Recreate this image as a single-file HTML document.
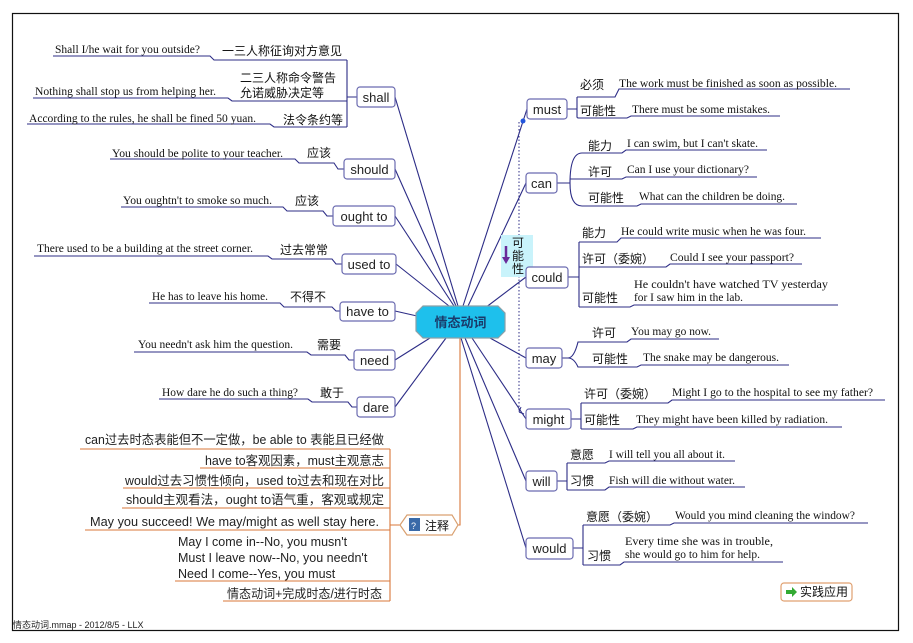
<!DOCTYPE html>
<html><head><meta charset="utf-8"><style>
html,body{margin:0;padding:0;background:#fff;}
svg{display:block;}
.s{font-family:"Liberation Serif","Noto Serif CJK SC",serif;font-size:12px;fill:#111;}
.c{font-family:"Liberation Sans","Noto Sans CJK SC",sans-serif;font-size:12px;fill:#111;}
.n{font-family:"Liberation Sans","Noto Sans CJK SC",sans-serif;font-size:13px;fill:#222;}
.t{font-family:"Liberation Sans","Noto Sans CJK SC",sans-serif;font-size:12.5px;fill:#222;}
.L{fill:none;stroke:#2c2c86;stroke-width:1.1;}
.O{fill:none;stroke:#d9773a;stroke-width:1.1;}
.B{fill:#fff;stroke:#6b6bb0;stroke-width:1.2;}
</style></head><body>
<svg width="913" height="643" viewBox="0 0 913 643" xmlns="http://www.w3.org/2000/svg">
<rect x="12.5" y="13.5" width="886" height="617" fill="none" stroke="#111" stroke-width="1.2"/>
<text x="13" y="628" font-family="Liberation Sans,Noto Sans CJK SC,sans-serif" font-size="9" fill="#222">情态动词.mmap - 2012/8/5 - LLX</text>

<!-- center connectors -->
<g class="L">
<path d="M395 97 L458 306"/><path d="M395 169 L456 306"/><path d="M395 216 L454 306"/>
<path d="M396 264 L449 306"/><path d="M395 311 L417 316"/><path d="M395 360 L430 338"/><path d="M395 407 L446 338"/>
<path d="M527 109 L463 306"/><path d="M526 183 L468 306"/><path d="M526 277 L485 308"/>
<path d="M526 358 L490 338"/><path d="M526 419 L472 338"/><path d="M526 481 L465 338"/><path d="M526 548 L461 338"/>
</g>
<path d="M460 338 V525 H458" class="O"/>

<!-- center node -->
<polygon points="423,306 498,306 505,313 505,331 498,338 423,338 416,331 416,313" fill="#1ec0ec" stroke="#8aa0a8" stroke-width="1.2"/>
<text x="460.5" y="327" text-anchor="middle" font-family="Liberation Sans,Noto Sans CJK SC,sans-serif" font-size="13" font-weight="bold" fill="#1a3a6a">情态动词</text>

<!-- LEFT side -->
<g class="L">
<path d="M53 56 H210 L214 60 H347"/><path d="M33 98 H228 L232 101 H347"/><path d="M27 124 H270 L274 127 H347"/>
<path d="M347 60 V127 M347 97 H357"/>
<path d="M110 159 H295 L299 163 H334 L338 169 H344"/>
<path d="M121 207 H283 L287 211 H323 L327 216 H333"/>
<path d="M34 256 H268 L272 259 H332 L336 264 H342"/>
<path d="M149 303 H280 L284 307 H332 L336 311 H340"/>
<path d="M134 352 H307 L311 355 H345 L349 360 H354"/>
<path d="M159 399 H308 L312 402 H348 L352 407 H357"/>
</g>
<text class="s" x="55" y="53" textLength="145" lengthAdjust="spacingAndGlyphs">Shall I/he wait for you outside?</text>
<text class="c" x="222" y="55">一三人称征询对方意见</text>
<text class="c" x="240" y="82">二三人称命令警告</text>
<text class="c" x="240" y="97">允诺威胁决定等</text>
<text class="s" x="35" y="95" textLength="181" lengthAdjust="spacingAndGlyphs">Nothing shall stop us from helping her.</text>
<text class="s" x="29" y="122" textLength="227" lengthAdjust="spacingAndGlyphs">According to the rules, he shall be fined 50 yuan.</text>
<text class="c" x="283" y="124">法令条约等</text>
<text class="s" x="112" y="157" textLength="171" lengthAdjust="spacingAndGlyphs">You should be polite to your teacher.</text>
<text class="c" x="307" y="157">应该</text>
<text class="s" x="123" y="204" textLength="149" lengthAdjust="spacingAndGlyphs">You oughtn't to smoke so much.</text>
<text class="c" x="295" y="205">应该</text>
<text class="s" x="37" y="252" textLength="216" lengthAdjust="spacingAndGlyphs">There used to be a building at the street corner.</text>
<text class="c" x="280" y="254">过去常常</text>
<text class="s" x="152" y="300" textLength="116" lengthAdjust="spacingAndGlyphs">He has to leave his home.</text>
<text class="c" x="290" y="301">不得不</text>
<text class="s" x="138" y="348" textLength="155" lengthAdjust="spacingAndGlyphs">You needn't ask him the question.</text>
<text class="c" x="317" y="349">需要</text>
<text class="s" x="162" y="396" textLength="136" lengthAdjust="spacingAndGlyphs">How dare he do such a thing?</text>
<text class="c" x="320" y="397">敢于</text>

<rect class="B" x="357" y="87" width="38" height="20" rx="3"/><text class="n" x="376" y="102" text-anchor="middle">shall</text>
<rect class="B" x="344" y="159" width="51" height="20" rx="3"/><text class="n" x="369.5" y="174" text-anchor="middle">should</text>
<rect class="B" x="333" y="206" width="62" height="20" rx="3"/><text class="n" x="364" y="221" text-anchor="middle">ought to</text>
<rect class="B" x="342" y="254" width="54" height="20" rx="3"/><text class="n" x="369" y="269" text-anchor="middle">used to</text>
<rect class="B" x="340" y="302" width="55" height="19" rx="3"/><text class="n" x="367.5" y="316" text-anchor="middle">have to</text>
<rect class="B" x="354" y="350" width="41" height="20" rx="3"/><text class="n" x="374.5" y="365" text-anchor="middle">need</text>
<rect class="B" x="357" y="397" width="38" height="20" rx="3"/><text class="n" x="376" y="412" text-anchor="middle">dare</text>

<!-- RIGHT side -->
<line x1="519" y1="122" x2="519" y2="412" stroke="#2c2c86" stroke-width="1" stroke-dasharray="1.5,2"/>
<path d="M519 412 L524 414 M519 412 L521 407" stroke="#2c2c86" fill="none"/>
<circle cx="523" cy="121" r="2.5" fill="#2255dd"/>
<rect x="501" y="235" width="32" height="42" fill="#c9f3fb"/>
<text class="c" x="512" y="247">可</text><text class="c" x="512" y="260">能</text><text class="c" x="512" y="273">性</text>
<path d="M506 246 V258" stroke="#6a2a9a" stroke-width="2.5"/><path d="M502 257 L510 257 L506 264 Z" fill="#6a2a9a"/>

<g class="L">
<path d="M567 109 H577 M577 97 V117 Q577 118 579 118 M577 97 Q577 97 580 97 H615 L619 89 H850 M579 118 H627 L631 116 H780"/>
<path d="M557 183 H570 Q570 153 582 153 H622 L626 150 H767 M570 183 Q570 206 582 206 H637 L641 204 H797 M570 179 H622 L626 177 H757"/>
<path d="M568 277 H579 M579 242 V307 M579 242 H617 L621 238 H821 M579 267 H666 L670 264 H802 M579 307 H630 L634 305 H838"/>
<path d="M562 358 H568 Q574 358 578 342 H627 L631 339 H719 M568 358 Q574 358 578 367 H637 L641 365 H789"/>
<path d="M571 419 H581 M581 403 V429 M581 403 H668 L672 400 H885 M581 429 H633 L637 427 H842"/>
<path d="M557 481 H567 M567 463 V490 M567 463 H605 L609 461 H735 M567 490 H605 L609 487 H745"/>
<path d="M573 548 H583 M583 525 V565 M583 525 H670 L674 523 H868 M583 565 H620 L624 562 H783"/>
</g>
<text class="c" x="580" y="89">必须</text>
<text class="s" x="619" y="87" textLength="218" lengthAdjust="spacingAndGlyphs">The work must be finished as soon as possible.</text>
<text class="c" x="580" y="115">可能性</text>
<text class="s" x="632" y="113" textLength="138" lengthAdjust="spacingAndGlyphs">There must be some mistakes.</text>
<text class="c" x="588" y="150">能力</text>
<text class="s" x="627" y="147" textLength="131" lengthAdjust="spacingAndGlyphs">I can swim, but I can't skate.</text>
<text class="c" x="588" y="176">许可</text>
<text class="s" x="627" y="173" textLength="122" lengthAdjust="spacingAndGlyphs">Can I use your dictionary?</text>
<text class="c" x="588" y="202">可能性</text>
<text class="s" x="639" y="200" textLength="146" lengthAdjust="spacingAndGlyphs">What can the children be doing.</text>
<text class="c" x="582" y="237">能力</text>
<text class="s" x="621" y="235" textLength="185" lengthAdjust="spacingAndGlyphs">He could write music when he was four.</text>
<text class="c" x="582" y="263">许可（委婉）</text>
<text class="s" x="670" y="261" textLength="124" lengthAdjust="spacingAndGlyphs">Could I see your passport?</text>
<text class="c" x="582" y="302">可能性</text>
<text class="s" x="634" y="288" textLength="194" lengthAdjust="spacingAndGlyphs">He couldn't have watched TV yesterday</text>
<text class="s" x="634" y="301" textLength="109" lengthAdjust="spacingAndGlyphs">for I saw him in the lab.</text>
<text class="c" x="592" y="337">许可</text>
<text class="s" x="631" y="335" textLength="80" lengthAdjust="spacingAndGlyphs">You may go now.</text>
<text class="c" x="592" y="363">可能性</text>
<text class="s" x="643" y="361" textLength="136" lengthAdjust="spacingAndGlyphs">The snake may be dangerous.</text>
<text class="c" x="584" y="398">许可（委婉）</text>
<text class="s" x="672" y="396" textLength="201" lengthAdjust="spacingAndGlyphs">Might I go to the hospital to see my father?</text>
<text class="c" x="584" y="424">可能性</text>
<text class="s" x="636" y="423" textLength="192" lengthAdjust="spacingAndGlyphs">They might have been killed by radiation.</text>
<text class="c" x="570" y="459">意愿</text>
<text class="s" x="609" y="458" textLength="116" lengthAdjust="spacingAndGlyphs">I will tell you all about it.</text>
<text class="c" x="570" y="485">习惯</text>
<text class="s" x="609" y="484" textLength="126" lengthAdjust="spacingAndGlyphs">Fish will die without water.</text>
<text class="c" x="586" y="521">意愿（委婉）</text>
<text class="s" x="675" y="519" textLength="180" lengthAdjust="spacingAndGlyphs">Would you mind cleaning the window?</text>
<text class="c" x="587" y="560">习惯</text>
<text class="s" x="625" y="545" textLength="148" lengthAdjust="spacingAndGlyphs">Every time she was in trouble,</text>
<text class="s" x="625" y="558" textLength="135" lengthAdjust="spacingAndGlyphs">she would go to him for help.</text>

<rect class="B" x="527" y="99" width="40" height="20" rx="3"/><text class="n" x="547" y="114" text-anchor="middle">must</text>
<rect class="B" x="526" y="173" width="31" height="20" rx="3"/><text class="n" x="541.5" y="188" text-anchor="middle">can</text>
<rect class="B" x="526" y="267" width="42" height="21" rx="3"/><text class="n" x="547" y="282" text-anchor="middle">could</text>
<rect class="B" x="526" y="348" width="36" height="20" rx="3"/><text class="n" x="544" y="363" text-anchor="middle">may</text>
<rect class="B" x="526" y="409" width="45" height="20" rx="3"/><text class="n" x="548.5" y="424" text-anchor="middle">might</text>
<rect class="B" x="526" y="471" width="31" height="20" rx="3"/><text class="n" x="541.5" y="486" text-anchor="middle">will</text>
<rect class="B" x="526" y="538" width="47" height="21" rx="3"/><text class="n" x="549.5" y="553" text-anchor="middle">would</text>

<rect x="781" y="583" width="71" height="18" rx="3" fill="#fff" stroke="#e0a070" stroke-width="1.2"/>
<path d="M786 590 H792 V587 L797 592 L792 597 V594 H786 Z" fill="#33aa33"/>
<text class="c" x="800" y="596" font-size="11">实践应用</text>

<!-- notes -->
<g class="O">
<path d="M390 449 V601 M390 525 H400"/>
<path d="M80 449 H390 M200 468 H390 M123 488 H390 M122 508 H390 M85 530 H390 M175 581 H390 M223 601 H390"/>
</g>
<polygon points="400,525 407,515 452,515 458,525 452,535 407,535" fill="#fff" stroke="#d9a070" stroke-width="1.2"/>
<rect x="409" y="518" width="11" height="13" fill="#3a6aa8"/>
<text x="411" y="529" font-family="Liberation Sans,sans-serif" font-size="9" fill="#fff">?</text>
<text class="c" x="425" y="530" font-size="12.5">注释</text>
<text class="t" x="85" y="444" textLength="299" lengthAdjust="spacingAndGlyphs">can过去时态表能但不一定做，be able to 表能且已经做</text>
<text class="t" x="205" y="465" textLength="179" lengthAdjust="spacingAndGlyphs">have to客观因素，must主观意志</text>
<text class="t" x="125" y="485" textLength="259" lengthAdjust="spacingAndGlyphs">would过去习惯性倾向，used to过去和现在对比</text>
<text class="t" x="126" y="504" textLength="258" lengthAdjust="spacingAndGlyphs">should主观看法，ought to语气重，客观或规定</text>
<text class="t" x="90" y="526" textLength="289" lengthAdjust="spacingAndGlyphs">May you succeed! We may/might as well stay here.</text>
<text class="t" x="178" y="546">May I come in--No, you musn't</text>
<text class="t" x="178" y="562">Must I leave now--No, you needn't</text>
<text class="t" x="178" y="578">Need I come--Yes, you must</text>
<text class="t" x="227" y="598" textLength="155" lengthAdjust="spacingAndGlyphs">情态动词+完成时态/进行时态</text>
</svg>
</body></html>
